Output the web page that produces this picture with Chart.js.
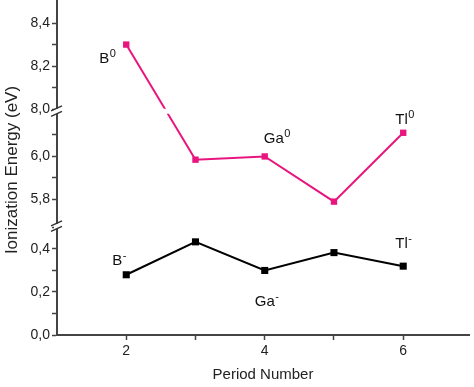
<!DOCTYPE html>
<html>
<head>
<meta charset="utf-8">
<script src="https://cdn.jsdelivr.net/npm/chart.js@4.4.1/dist/chart.umd.min.js"></script>
<style>
  html, body { margin: 0; padding: 0; background: #fff; }
  #wrap { width: 474px; height: 387px; }
</style>
</head>
<body>
<div id="wrap"><canvas id="chart" width="474" height="387"></canvas></div>
<script>
// data
const periods = [2, 3, 4, 5, 6];
const neutralIE = [8.30, 5.985, 6.00, 5.79, 6.11];   // X^0
const anionIE = [0.28, 0.433, 0.30, 0.383, 0.32];    // X^-
const neutralNames = ['B', null, 'Ga', null, 'Tl'];
const anionNames = ['B', null, 'Ga', null, 'Tl'];

// broken y axis: visible value ranges, bottom to top
const ySegments = [[0, 0.505], [5.675, 6.21], [7.99, 8.484]];
const yMajorTicks = [0, 0.2, 0.4, 5.8, 6.0, 8.0, 8.2, 8.4];
const yMinorTicks = [0.1, 0.3, 0.5, 5.9, 6.1, 8.1, 8.3];
const xTicks = [1, 2, 3, 4, 5, 6];
const xLabelled = [2, 4, 6];

const FONT = '"Liberation Sans", Arial, sans-serif';
const PINK = '#e8157f';
const AXIS = '#444';

const segTotal = ySegments.reduce((s, g) => s + (g[1] - g[0]), 0);

function toDecimal(v) {
    let acc = 0;
    for (let i = 0; i < ySegments.length; i++) {
        const [lo, hi] = ySegments[i];
        if (v <= hi || i == ySegments.length - 1) {
            const c = Math.max(lo, Math.min(hi, v));
            return (acc + c - lo) / segTotal;
        }
        acc += hi - lo;
    }
}
function fromDecimal(d) {
    let rest = d * segTotal;
    for (const [lo, hi] of ySegments) {
        if (rest <= hi - lo) return lo + rest;
        rest -= hi - lo;
    }
    return ySegments[ySegments.length - 1][1];
}

// linear scale with gaps between the segments
class BrokenScale extends Chart.LinearScale {
    buildTicks() {
        return yMajorTicks.concat(yMinorTicks).sort((a, b) => a - b).map(v => ({value: v}));
    }
    getPixelForValue(value) {
        if (value === null || isNaN(value)) return NaN;
        return this.getPixelForDecimal(toDecimal(value));
    }
    getValueForPixel(pixel) {
        return fromDecimal(this.getDecimalForPixel(pixel));
    }
    getPadding() {
        const p = super.getPadding();
        return {left: p.left, right: p.right, top: 0, bottom: 0};
    }
}
BrokenScale.id = 'broken';
BrokenScale.defaults = Chart.LinearScale.defaults;
Chart.register(BrokenScale);

const fmt = v => v.toFixed(1).replace('.', ',');

const breakPlugin = {
    id: 'breaks',
    afterDatasetsDraw(chart) {
        const ctx = chart.ctx;
        const y = chart.scales.y;
        const area = chart.chartArea;
        const ax = area.left;
        ctx.save();
        // axis line runs up to the top edge
        ctx.strokeStyle = AXIS;
        ctx.lineWidth = 2;
        ctx.beginPath();
        ctx.moveTo(ax, 0); ctx.lineTo(ax, area.top + 1);
        ctx.stroke();
        for (let i = 0; i < ySegments.length - 1; i++) {
            const b = y.getPixelForValue(ySegments[i][1]);
            // gap through the plotted line
            ctx.fillStyle = '#fff';
            ctx.fillRect(ax + 2, b - 2.5, area.right - ax, 5);
            // cut the axis line
            ctx.fillRect(ax - 3, b - 2.5, 6, 5);
            ctx.strokeStyle = '#333';
            ctx.lineWidth = 1.4;
            ctx.beginPath();
            ctx.moveTo(ax - 6, b - 0.5); ctx.lineTo(ax + 5, b - 5.5);
            ctx.moveTo(ax - 6, b + 5); ctx.lineTo(ax + 5, b);
            ctx.stroke();
        }
        ctx.restore();
    }
};

// element labels with superscripts
const labelOffsets = {
    n0: [-27, 18], n2: [-1, -13], n4: [-8, -9],
    a0: [-14, -10], a2: [-10, 36], a4: [-8, -18]
};
const labelPlugin = {
    id: 'elementLabels',
    afterDatasetsDraw(chart) {
        const ctx = chart.ctx;
        const xs = chart.scales.x, ys = chart.scales.y;
        ctx.save();
        ctx.fillStyle = '#111';
        ctx.textAlign = 'left';
        ctx.textBaseline = 'alphabetic';
        const put = (names, vals, sup, key) => {
            names.forEach((n, i) => {
                if (!n) return;
                const off = labelOffsets[key + i];
                const px = xs.getPixelForValue(periods[i]) + off[0];
                const py = ys.getPixelForValue(vals[i]) + off[1];
                ctx.font = '15px ' + FONT;
                ctx.fillText(n, px, py);
                const w = ctx.measureText(n).width;
                ctx.font = '11px ' + FONT;
                ctx.fillText(sup, px + w + 0.5, py - 6);
            });
        };
        put(neutralNames, neutralIE, '0', 'n');
        put(anionNames, anionIE, '-', 'a');
        ctx.restore();
    }
};

new Chart(document.getElementById('chart'), {
    type: 'line',
    data: {
        datasets: [{
            label: 'neutral',
            data: periods.map((p, i) => ({x: p, y: neutralIE[i]})),
            borderColor: PINK,
            backgroundColor: PINK,
            borderWidth: 2,
            pointStyle: 'rect',
            pointRadius: 4.5,
            pointBorderWidth: 0,
            tension: 0
        }, {
            label: 'anion',
            data: periods.map((p, i) => ({x: p, y: anionIE[i]})),
            borderColor: '#000',
            backgroundColor: '#000',
            borderWidth: 2,
            pointStyle: 'rect',
            pointRadius: 5,
            pointBorderWidth: 0,
            tension: 0
        }]
    },
    options: {
        responsive: false,
        animation: false,
        layout: {padding: {top: 0, right: 3, left: 0, bottom: 0}},
        plugins: {legend: {display: false}, tooltip: {enabled: false}},
        scales: {
            x: {
                type: 'linear',
                min: 1,
                max: 6.95,
                afterBuildTicks: s => { s.ticks = xTicks.map(v => ({value: v})); },
                afterFit: s => { s.height = 52; },
                ticks: {
                    autoSkip: false,
                    maxRotation: 0,
                    padding: 3,
                    color: '#222',
                    font: {family: FONT, size: 14},
                    callback: v => xLabelled.includes(v) ? String(v) : ''
                },
                grid: {
                    drawOnChartArea: false,
                    drawTicks: true,
                    tickLength: 5,
                    tickWidth: 1.5,
                    tickColor: c => (c.tick && c.tick.value == 1) ? 'rgba(0,0,0,0)' : AXIS
                },
                border: {display: true, color: AXIS, width: 2},
                title: {
                    display: true,
                    text: 'Period Number',
                    color: '#222',
                    font: {family: FONT, size: 15},
                    padding: {top: 0, bottom: 3}
                }
            },
            y: {
                type: 'broken',
                min: ySegments[0][0],
                max: ySegments[ySegments.length - 1][1],
                afterFit: s => { s.width = 57; s.paddingTop = 0; s.paddingBottom = 0; },
                ticks: {
                    autoSkip: false,
                    padding: 2,
                    color: '#222',
                    font: {family: FONT, size: 14},
                    callback: v => yMajorTicks.includes(v) ? fmt(v) : ''
                },
                grid: {
                    drawOnChartArea: false,
                    drawTicks: true,
                    tickLength: 5,
                    tickWidth: 1.5,
                    tickColor: AXIS
                },
                border: {display: true, color: AXIS, width: 2},
                title: {
                    display: true,
                    text: 'Ionization Energy (eV)',
                    color: '#222',
                    font: {family: FONT, size: 17},
                    padding: {top: 2, bottom: 0}
                }
            }
        }
    },
    plugins: [breakPlugin, labelPlugin]
});
</script>
</body>
</html>
